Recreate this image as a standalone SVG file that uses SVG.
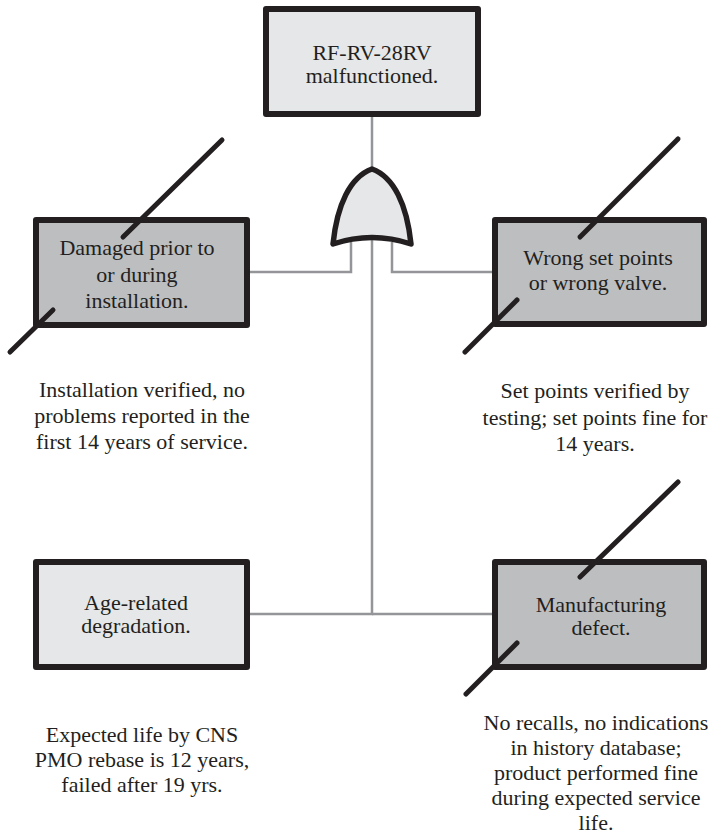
<svg xmlns="http://www.w3.org/2000/svg" width="711" height="835" viewBox="0 0 711 835">
  <style>
    .box { stroke: #231f20; stroke-width: 6; stroke-linejoin: round; }
    .light { fill: #e6e7e8; }
    .dark { fill: #bcbec0; }
    .slash { stroke: #231f20; stroke-width: 5; stroke-linecap: round; fill: none; }
    .wire { stroke: #939598; stroke-width: 2.5; fill: none; }
    text { font-family: "Liberation Serif", "Times New Roman", serif; font-size: 22px; fill: #231f20; text-anchor: middle; }
  </style>
  <rect width="711" height="835" fill="#ffffff"/>

  <!-- connectors -->
  <g id="connectors">
    <path class="wire" d="M372,117 V170"/>
    <path class="wire" d="M372,236 V614 H250"/>
    <path class="wire" d="M372,614 H492"/>
    <path class="wire" d="M351,242 V272 H250"/>
    <path class="wire" d="M392,242 V272 H492"/>
  </g>

  <!-- top event -->
  <g id="top-event">
    <rect class="box light" x="266" y="9" width="212" height="105"/>
    <text x="372" y="60">RF-RV-28RV</text>
    <text x="372" y="83">malfunctioned.</text>
  </g>

  <!-- OR gate -->
  <g id="or-gate">
    <path d="M333,244 C337,205 350,177 372,169 C394,177 407,205 411,244 Q372,231 333,244 Z" fill="#e6e7e8" stroke="#231f20" stroke-width="5.5" stroke-linejoin="round"/>
  </g>

  <!-- ruled-out cause: installation damage -->
  <g id="damaged">
    <rect class="box dark" x="36" y="220" width="211" height="105"/>
    <path class="slash" d="M222,140 L123,237"/>
    <path class="slash" d="M53,310 L10,352"/>
    <text x="137" y="255">Damaged prior to</text>
    <text x="137" y="282">or during</text>
    <text x="137" y="308">installation.</text>
  </g>
  <g id="damaged-note">
    <text x="142" y="397">Installation verified, no</text>
    <text x="142" y="423">problems reported in the</text>
    <text x="142" y="449">first 14 years of service.</text>
  </g>

  <!-- ruled-out cause: set points -->
  <g id="setpoints">
    <rect class="box dark" x="495" y="220" width="209" height="104"/>
    <path class="slash" d="M678,139 L580,237"/>
    <path class="slash" d="M517,300 L465,352"/>
    <text x="598" y="265">Wrong set points</text>
    <text x="598" y="290">or wrong valve.</text>
  </g>
  <g id="setpoints-note">
    <text x="595" y="398">Set points verified by</text>
    <text x="595" y="425">testing; set points fine for</text>
    <text x="595" y="451">14 years.</text>
  </g>

  <!-- remaining cause: ageing -->
  <g id="age">
    <rect class="box light" x="36" y="562" width="211" height="105"/>
    <text x="136" y="610">Age-related</text>
    <text x="136" y="633">degradation.</text>
  </g>
  <g id="age-note">
    <text x="142" y="742">Expected life by CNS</text>
    <text x="142" y="767">PMO rebase is 12 years,</text>
    <text x="142" y="792">failed after 19 yrs.</text>
  </g>

  <!-- ruled-out cause: manufacturing -->
  <g id="manufacturing">
    <rect class="box dark" x="495" y="562" width="209" height="105"/>
    <path class="slash" d="M678,482 L580,577"/>
    <path class="slash" d="M517,643 L466,694"/>
    <text x="601" y="612">Manufacturing</text>
    <text x="601" y="635">defect.</text>
  </g>
  <g id="manufacturing-note">
    <text x="596" y="730">No recalls, no indications</text>
    <text x="596" y="755">in history database;</text>
    <text x="596" y="780">product performed fine</text>
    <text x="596" y="805">during expected service</text>
    <text x="596" y="830">life.</text>
  </g>
</svg>
